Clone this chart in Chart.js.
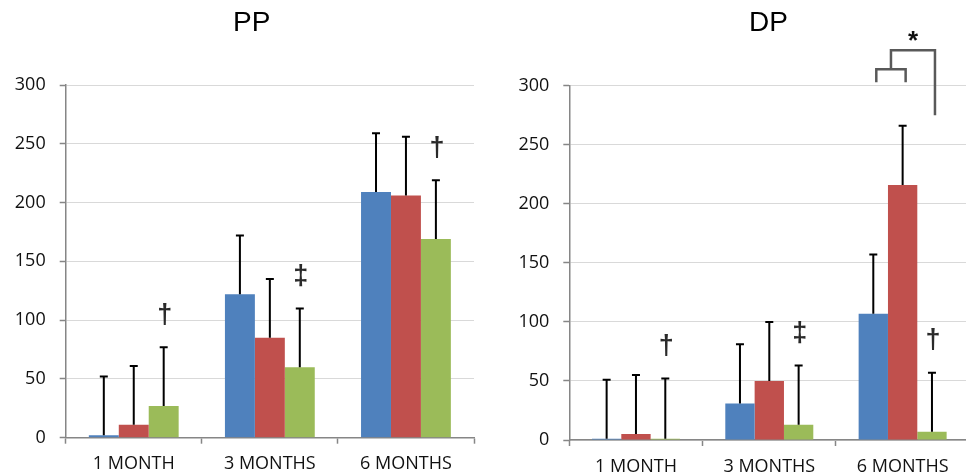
<!DOCTYPE html>
<html>
<head>
<meta charset="utf-8">
<script src="https://cdn.jsdelivr.net/npm/chart.js@4.4.1/dist/chart.umd.min.js"></script>
<style>
  html, body { margin: 0; padding: 0; background: #fff; overflow: hidden; }
  #pp { position: absolute; left: 0; top: 0; }
  #dp { position: absolute; left: 483px; top: 0; }
</style>
</head>
<body>
<canvas id="pp" width="483" height="475"></canvas>
<canvas id="dp" width="490" height="475"></canvas>
<script>
const categories = ["1 MONTH", "3 MONTHS", "6 MONTHS"];
const yTicks = [0, 50, 100, 150, 200, 250, 300];

// PP: means and error bar tops
const ppBlue = [2, 122, 209];
const ppRed = [11, 85, 206];
const ppGreen = [27, 60, 169];
const ppBlueTop = [52, 172, 259];
const ppRedTop = [61, 135, 256];
const ppGreenTop = [77, 110, 219];
const ppMarks = ["†", "‡", "†"];

// DP: means and error bar tops
const dpBlue = [1, 31, 107];
const dpRed = [5, 50, 216];
const dpGreen = [1, 13, 7];
const dpBlueTop = [51, 81, 157];
const dpRedTop = [55, 100, 266];
const dpGreenTop = [52, 63, 57];
const dpMarks = ["†", "‡", "†"];

const BLUE = "#4f81bd", RED = "#c0504d", GREEN = "#9bbb59";
const AXIS = "#868686";

// panel title, placed off-centre like the original
const panelTitle = {
  id: "panelTitle",
  afterDraw(chart, args, opts) {
    const { ctx } = chart;
    ctx.save();
    ctx.fillStyle = "#000";
    ctx.font = "28px 'Liberation Sans', Arial, sans-serif";
    ctx.textAlign = "center";
    ctx.textBaseline = "middle";
    ctx.fillText(opts.text, opts.x, opts.y);
    ctx.restore();
  }
};

// upper error bars on every bar
const errorBars = {
  id: "errorBars",
  afterDatasetsDraw(chart) {
    const { ctx, scales: { y } } = chart;
    ctx.save();
    ctx.strokeStyle = "#000";
    ctx.lineWidth = 2;
    chart.data.datasets.forEach((ds, i) => {
      chart.getDatasetMeta(i).data.forEach((bar, j) => {
        const top = y.getPixelForValue(ds.errTop[j]);
        ctx.beginPath();
        ctx.moveTo(bar.x, bar.y);
        ctx.lineTo(bar.x, top);
        ctx.moveTo(bar.x - 4, top);
        ctx.lineTo(bar.x + 4, top);
        ctx.stroke();
      });
    });
    ctx.restore();
  }
};

// daggers above the last series
const sigMarks = {
  id: "sigMarks",
  afterDatasetsDraw(chart, args, opts) {
    const { ctx, scales: { y } } = chart;
    const last = chart.data.datasets.length - 1;
    const ds = chart.data.datasets[last];
    ctx.save();
    ctx.fillStyle = "#2a2a2a";
    ctx.font = "bold 27px 'Liberation Sans', Arial, sans-serif";
    ctx.textAlign = "center";
    ctx.textBaseline = "middle";
    chart.getDatasetMeta(last).data.forEach((bar, j) => {
      ctx.fillText(opts.marks[j], bar.x + 1, y.getPixelForValue(ds.errTop[j]) - 32);
    });
    ctx.restore();
  }
};

// significance bracket over the 6 month group (DP only)
const bracket = {
  id: "bracket",
  afterDatasetsDraw(chart, args, opts) {
    if (!opts || opts.index === undefined) return;
    const { ctx, scales: { y } } = chart;
    const i = opts.index;
    const xs = [0, 1, 2].map(d => chart.getDatasetMeta(d).data[i].x + 3);
    const low = y.getPixelForValue(opts.low);
    const mid = y.getPixelForValue(opts.mid);
    const high = y.getPixelForValue(opts.high);
    const end = y.getPixelForValue(opts.end);
    const stem = (xs[0] + xs[1]) / 2;
    ctx.save();
    ctx.strokeStyle = "#595959";
    ctx.lineWidth = 2.5;
    ctx.beginPath();
    ctx.moveTo(xs[0], low);
    ctx.lineTo(xs[0], mid);
    ctx.lineTo(xs[1], mid);
    ctx.lineTo(xs[1], low);
    ctx.moveTo(stem, mid);
    ctx.lineTo(stem, high);
    ctx.lineTo(xs[2], high);
    ctx.lineTo(xs[2], end);
    ctx.stroke();
    ctx.fillStyle = "#111";
    ctx.font = "bold 26px 'Liberation Sans', Arial, sans-serif";
    ctx.textAlign = "center";
    ctx.textBaseline = "alphabetic";
    ctx.fillText("*", (stem + xs[2]) / 2, high - 1);
    ctx.restore();
  }
};

function makeChart(id, title, series, marks, lay, extra) {
  const names = ["Series 1", "Series 2", "Series 3"];
  const colors = [BLUE, RED, GREEN];
  return new Chart(document.getElementById(id), {
    type: "bar",
    data: {
      labels: categories,
      datasets: series.map((s, k) => ({
        label: names[k],
        data: s.values,
        errTop: s.tops,
        backgroundColor: colors[k],
        barPercentage: 1,
        categoryPercentage: 0.66
      }))
    },
    plugins: [errorBars, sigMarks, panelTitle].concat(extra ? [bracket] : []),
    options: {
      responsive: false,
      animation: false,
      layout: { padding: { left: 0, right: lay.right, top: lay.top, bottom: 0 } },
      plugins: {
        legend: { display: false },
        tooltip: { enabled: false },
        title: { display: false },
        panelTitle: { text: title, x: lay.titleX, y: lay.titleY },
        sigMarks: { marks: marks },
        bracket: extra || {}
      },
      scales: {
        x: {
          grid: { drawOnChartArea: false, offset: true, tickColor: AXIS, tickLength: 6, tickWidth: 1.5 },
          border: { color: AXIS, width: 1.5 },
          ticks: { color: "#111", padding: lay.xPad, font: { family: "'Open Sans', sans-serif", size: 18 } },
          afterFit: s => { s.height = lay.xHeight; }
        },
        y: {
          min: 0,
          max: 300,
          afterBuildTicks: s => { s.ticks = yTicks.map(v => ({ value: v })); },
          grid: { color: "#d9d9d9", lineWidth: 1, tickColor: AXIS, tickLength: 6, tickWidth: 1.5 },
          border: { color: AXIS, width: 1.5 },
          ticks: { color: "#111", padding: 14, font: { family: "'Open Sans', sans-serif", size: 18 } },
          afterFit: s => { s.width = lay.yWidth; }
        }
      }
    }
  });
}

makeChart("pp", "PP", [
  { values: ppBlue, tops: ppBlueTop },
  { values: ppRed, tops: ppRedTop },
  { values: ppGreen, tops: ppGreenTop }
], ppMarks, { right: 9, top: 85, yWidth: 65.7, xHeight: 37.3, xPad: 9, titleX: 251.7, titleY: 23 });

makeChart("dp", "DP", [
  { values: dpBlue, tops: dpBlueTop },
  { values: dpRed, tops: dpRedTop },
  { values: dpGreen, tops: dpGreenTop }
], dpMarks, { right: 3.7, top: 85.7, yWidth: 86.3, xHeight: 35, xPad: 10, titleX: 285.5, titleY: 23.5 },
  { index: 2, low: 303, mid: 314, high: 330, end: 275 });
</script>
</body>
</html>
